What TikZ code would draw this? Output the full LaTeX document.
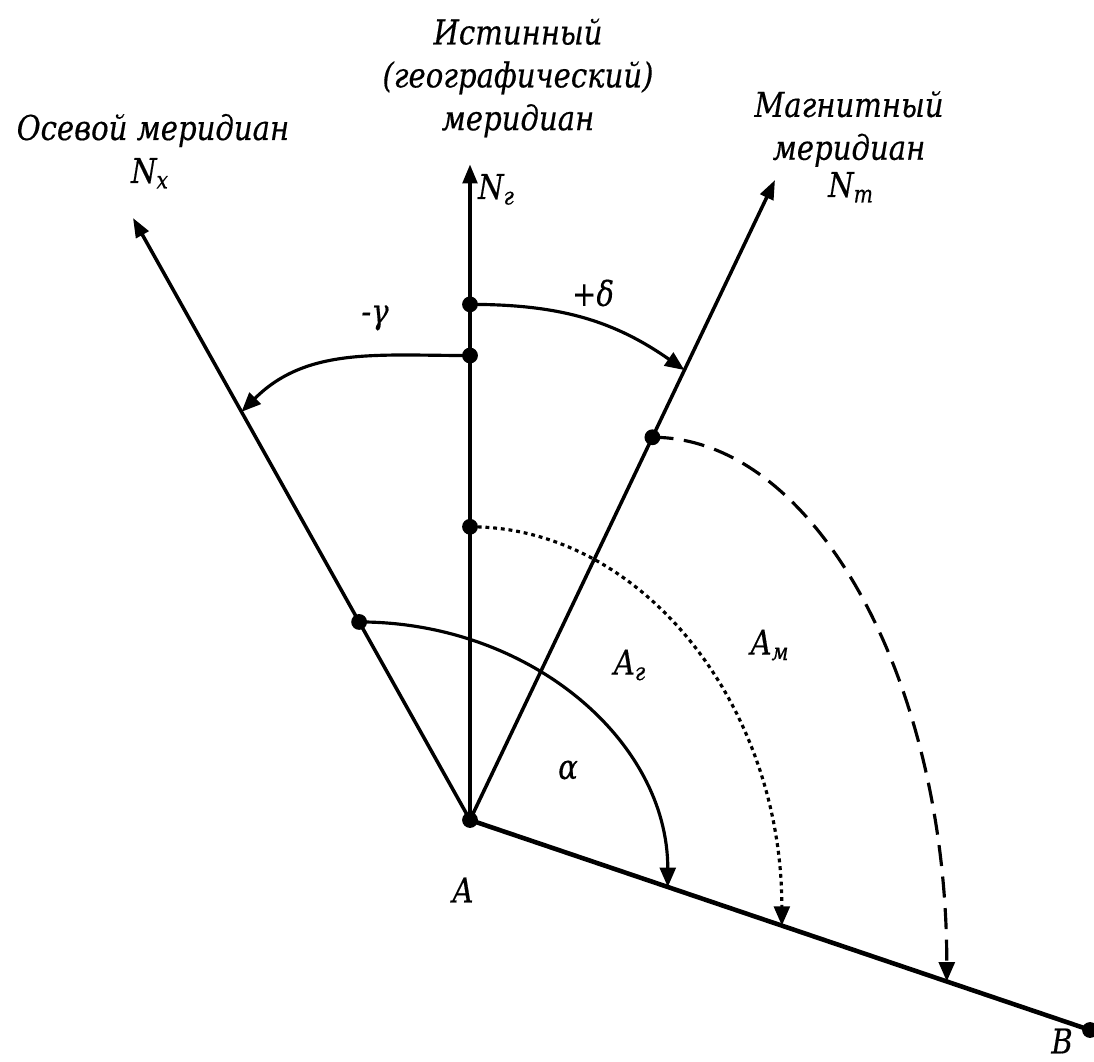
\documentclass[tikz,border=0pt]{standalone}
\usepackage{fontspec}
\setmainfont{DejaVu Serif}
\usetikzlibrary{
  arrows.meta,
  calc,
  positioning
}
\tikzset{
  meridian/.style={line width=2pt, -{Triangle[length=11pt,width=8pt]}},
  anglearc/.style={line width=1.8pt, -{Triangle[length=11pt,width=9pt]}},
  lbl/.style={font=\itshape\fontsize{19.5}{24.4}\selectfont\addfontfeature{FakeStretch=0.85,FakeBold=0.4}, align=center, inner sep=1pt},
  dot/.style={circle, fill=black, inner sep=0pt, minimum size=9pt}
}

\begin{document}
\begin{tikzpicture}[x=0.02cm, y=0.02cm]
    \useasboundingbox (0,0) rectangle (1094,1061);
    % main points
    \coordinate (A) at (470,241);
    \coordinate (Ng) at (470,897);
    \coordinate (Nx) at (133,843);
    \coordinate (Nm) at (775,881);
    \coordinate (B) at (1090,31);
    % meridians and direction AB
    \draw[meridian, line width=2.6pt] (A) -- (Ng);
    \draw[meridian] (A) -- (Nx);
    \draw[meridian] (A) -- (Nm);
    \draw[line width=2.6pt] (A) -- (B);
    % points on the lines
    \coordinate (g1) at ($(A)!0.786!(Ng)$);
    \coordinate (g2) at ($(A)!0.708!(Ng)$);
    \coordinate (g3) at ($(A)!0.447!(Ng)$);
    \coordinate (x1) at ($(A)!0.329!(Nx)$);
    \coordinate (x2) at ($(A)!0.678!(Nx)$);
    \coordinate (m1) at ($(A)!0.598!(Nm)$);
    \coordinate (m2) at ($(A)!0.703!(Nm)$);
    \coordinate (b1) at ($(A)!0.319!(B)$);
    \coordinate (b2) at ($(A)!0.503!(B)$);
    \coordinate (b3) at ($(A)!0.769!(B)$);
    % corners of the quarter ellipses
    \coordinate (c1) at (b1 |- x1);
    \coordinate (c2) at (b2 |- g3);
    \coordinate (c3) at (b3 |- m1);
    % angles
    \draw[anglearc] (x1) .. controls ($(x1)!0.552!(c1)$) and ($(b1)!0.552!(c1)$) .. (b1);
    \draw[anglearc, dash pattern=on 2.2pt off 2.2pt] (g3) .. controls ($(g3)!0.552!(c2)$) and ($(b2)!0.552!(c2)$) .. (b2);
    \draw[anglearc, dash pattern=on 12pt off 6pt] (m1) .. controls ($(m1)!0.552!(c3)$) and ($(b3)!0.552!(c3)$) .. (b3);
    \draw[anglearc] (g2) to[out=180, in=45] (x2);
    \draw[anglearc] (g1) to[out=0, in=145] (m2);
    % dots
    \foreach \p in {A, B, g1, g2, g3, x1, m1}
        \node[dot] at (\p) {};
    % labels
    \node[lbl] (truemer) at (518,983) {Истинный\\(географический)\\меридиан};
    \node[lbl, anchor=base] (axialmer) at (153,921) {Осевой меридиан};
    \node[lbl, anchor=base] (axialN) at (150,878) {N\textsubscript{x}};
    \node[lbl, anchor=base west] (trueN) at (476,862) {N\textsubscript{г}};
    \node[lbl] (magmer) at (849,932) {Магнитный\\меридиан};
    \node[lbl, anchor=base] (magN) at (851,864) {N\textsubscript{m}};
    \node[lbl] (delta) at (593,768) {+δ};
    \node[lbl] (gamma) at (375,743) {-γ};
    \node[lbl] (Am) at (770,416) {A\textsubscript{м}};
    \node[lbl] (Ag) at (630,396) {A\textsubscript{г}};
    \node[lbl] (alpha) at (568,291) {α};
    \node[lbl] (Alab) at (463,171) {A};
    \node[lbl] (Blab) at (1062,20) {B};
\end{tikzpicture}
\end{document}
